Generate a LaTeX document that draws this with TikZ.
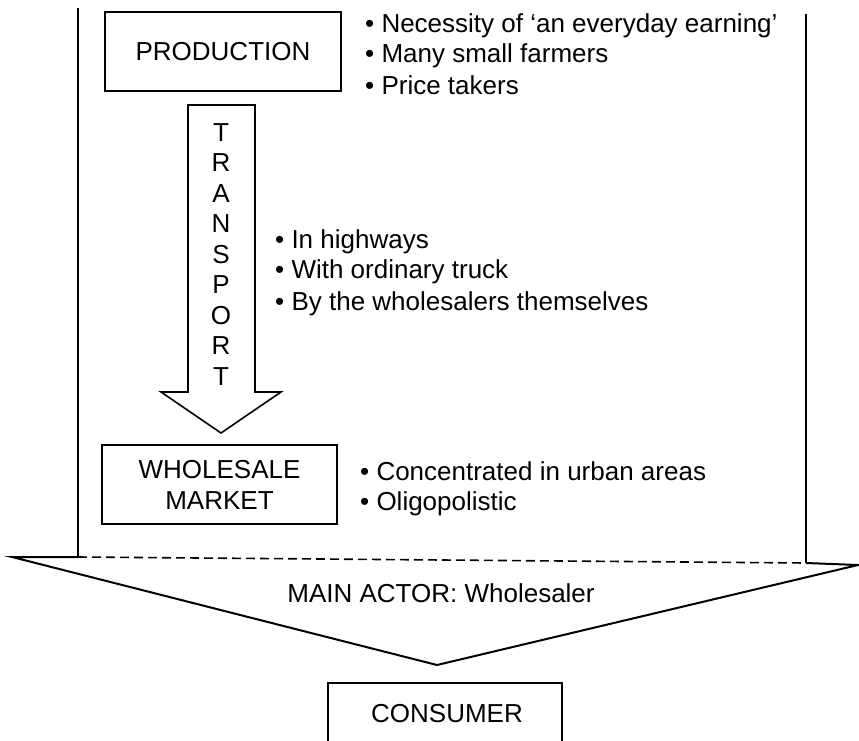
\documentclass[tikz,border=0pt]{standalone}
\usepackage{fontspec}
\setmainfont{Liberation Sans}
\begin{document}
\begin{tikzpicture}[x=1pt,y=-1pt,
  font=\fontsize{26}{31}\selectfont,
  box/.style={draw, line width=1.6pt, inner sep=0pt},
  framel/.style={line width=2pt},
  bul/.style={anchor=base west, inner sep=0pt},
  lbl/.style={anchor=base, inner sep=0pt}]
\useasboundingbox (0,0) rectangle (859,741);

% boxes
\node[box, minimum width=236pt, minimum height=79pt] (prod) at (223,51.5) {PRODUCTION};
\node[box, minimum width=235pt, minimum height=79pt, align=center] (whole) at (219.5,484.5) {WHOLESALE\\MARKET};

% transport block arrow
\draw[line width=1.6pt, line join=miter]
  (188,105) -- (255,105) -- (255,392) -- (281,392) -- (221,433) -- (161,392) -- (188,392) -- cycle;
\node[anchor=north, inner sep=0pt, align=center, font=\fontsize{26}{30.5}\selectfont] (transport) at (221,123.4)
  {T\\R\\A\\N\\S\\P\\O\\R\\T};

% bullets
\node[bul] (p1) at (365,33) {•\ Necessity of ‘an everyday earning’};
\node[bul] (p2) at (365,63) {•\ Many small farmers};
\node[bul] (p3) at (365,95) {•\ Price takers};
\node[bul] (t1) at (275,248) {•\ In highways};
\node[bul] (t2) at (275,278) {•\ With ordinary truck};
\node[bul] (t3) at (275,310) {•\ By the wholesalers themselves};
\node[bul] (w1) at (360,480) {•\ Concentrated in urban areas};
\node[bul] (w2) at (360,510) {•\ Oligopolistic};

% frame and big arrow
\coordinate (tl) at (78,8);
\coordinate (bl) at (78,557);
\coordinate (tr) at (806,14);
\coordinate (br) at (806,563);
\coordinate (L) at (12,557);
\coordinate (R) at (858,565);
\coordinate (apex) at (437,665);
\draw[framel] (tl) -- (bl);
\draw[framel] (tr) -- (br);
\draw[framel, line join=miter] (bl) -- (L) -- (apex) -- (R) -- (br);
\draw[line width=1.6pt, dash pattern=on 9pt off 5pt] (bl) -- (br);
\node[lbl] (actor) at (441,602) {MAIN ACTOR: Wholesaler};

% consumer
\draw[box] (328,741) -- (328,683) -- (562,683) -- (562,741);
\node[lbl] (consumer) at (447,722) {CONSUMER};
\end{tikzpicture}
\end{document}
